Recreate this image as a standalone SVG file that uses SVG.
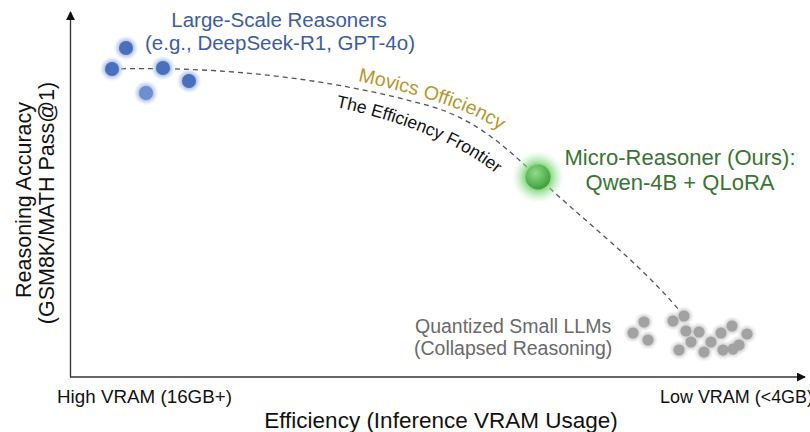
<svg xmlns="http://www.w3.org/2000/svg" width="810" height="432" viewBox="0 0 810 432">
<style>
text{font-family:"Liberation Sans",Arial,sans-serif}
.ax{stroke:#333;stroke-width:1.3;fill:none}
.frontier{stroke:#555;stroke-width:1.3;fill:none;stroke-dasharray:5 4}
.blue{fill:#3e5d9c;font-size:20.5px}
.green{fill:#3a7434;font-size:22px}
.gray{fill:#6a6a6a;font-size:19.5px}
.ylab{fill:#111;font-size:21.5px}
.xtick{fill:#111;font-size:19px}
.xlab{fill:#111;font-size:22.5px}
.bcore{fill:#4a70bd}
.bhalo{fill:url(#gBlue)}
.ghalo{fill:url(#gGray)}
.gcore{fill:#a2a2a2}
</style>
<defs>
<marker id="arr" viewBox="0 0 10 10" refX="9" refY="5" markerWidth="9" markerHeight="9" markerUnits="userSpaceOnUse" orient="auto">
<path d="M0,0 L10,5 L0,10 z" fill="#111"/>
</marker>
<radialGradient id="gBlue"><stop offset="0.5" stop-color="#9bb3e2" stop-opacity="0.95"/><stop offset="1" stop-color="#c9d6f0" stop-opacity="0"/></radialGradient>
<radialGradient id="gGray"><stop offset="0.5" stop-color="#c8c8c8" stop-opacity="0.95"/><stop offset="1" stop-color="#e2e2e2" stop-opacity="0"/></radialGradient>
<radialGradient id="gGreenHalo"><stop offset="0.45" stop-color="#6fd06a" stop-opacity="0.9"/><stop offset="1" stop-color="#b8ecb4" stop-opacity="0"/></radialGradient>
<radialGradient id="gGreenCore" cx="0.4" cy="0.35" r="0.7"><stop offset="0" stop-color="#8fdc86"/><stop offset="1" stop-color="#3c9a3a"/></radialGradient>
<path id="goldPath" d="M358,81 C395,89 440,101 470,114 C492,124 507,134 525,150"/>
<path id="blackPath" d="M336,107 C370,114 410,126 445,142 C470,154 490,167 510,186"/>
</defs>

<g id="axes">
<line class="ax" x1="70.5" y1="377" x2="70.5" y2="12" marker-end="url(#arr)"/>
<line class="ax" x1="70" y1="377" x2="805" y2="377" marker-end="url(#arr)"/>
<text class="ylab" transform="translate(31,200) rotate(-90)" text-anchor="middle">Reasoning Accuracy</text>
<text class="ylab" transform="translate(54,203) rotate(-90)" text-anchor="middle">(GSM8K/MATH Pass@1)</text>
<text class="xtick" x="57" y="403" textLength="175" lengthAdjust="spacingAndGlyphs">High VRAM (16GB+)</text>
<text class="xtick" x="660" y="403" textLength="153" lengthAdjust="spacingAndGlyphs">Low VRAM (&lt;4GB)</text>
<text class="xlab" x="441" y="428" text-anchor="middle">Efficiency (Inference VRAM Usage)</text>
</g>

<g id="connectors">
<path id="frontier" class="frontier" d="M112,69 C220,66 330,78 430,106 C480,121 508,150 538,177 C580,218 640,262 684,316"/>
<text fill="#b8962e" font-size="19.5px"><textPath href="#goldPath">Movics Officiency</textPath></text>
<text fill="#111" font-size="17.5px"><textPath href="#blackPath">The Efficiency Frontier</textPath></text>
</g>

<g id="large-scale-reasoners">
<circle class="bhalo" cx="126" cy="48" r="12.5"/>
<circle class="bhalo" cx="112" cy="69" r="12.5"/>
<circle class="bhalo" cx="163" cy="68" r="12.5"/>
<circle class="bhalo" cx="189" cy="81" r="12.5"/>
<circle class="bhalo" cx="146" cy="93" r="12.5"/>
<circle class="bcore" cx="126" cy="48" r="7"/>
<circle class="bcore" cx="112" cy="69" r="7"/>
<circle class="bcore" cx="163" cy="68" r="7"/>
<circle class="bcore" cx="189" cy="81" r="7"/>
<circle cx="146" cy="93" r="7" fill="#6d8fcf"/>
<text class="blue" x="279" y="27" text-anchor="middle">Large-Scale Reasoners</text>
<text class="blue" x="280" y="50" text-anchor="middle">(e.g., DeepSeek-R1, GPT-4o)</text>
</g>

<g id="micro-reasoner">
<circle cx="538" cy="177" r="26" fill="url(#gGreenHalo)"/>
<circle cx="538" cy="177" r="12.5" fill="url(#gGreenCore)"/>
<text class="green" x="680" y="165" text-anchor="middle">Micro-Reasoner (Ours):</text>
<text class="green" x="680" y="190" text-anchor="middle">Qwen-4B + QLoRA</text>
</g>

<g id="quantized-small-llms">
<g class="ghalo">
<circle cx="644" cy="322" r="10"/><circle cx="633" cy="333" r="10"/><circle cx="648" cy="340" r="10"/>
<circle cx="673" cy="321" r="10"/><circle cx="684" cy="316" r="10"/><circle cx="686" cy="331" r="10"/>
<circle cx="699" cy="332" r="10"/><circle cx="691" cy="342" r="10"/><circle cx="679" cy="350" r="10"/>
<circle cx="704" cy="352" r="10"/><circle cx="711" cy="342" r="10"/><circle cx="721" cy="333" r="10"/>
<circle cx="732" cy="326" r="10"/><circle cx="747" cy="334" r="10"/><circle cx="723" cy="350" r="10"/>
<circle cx="733" cy="349" r="10"/><circle cx="739" cy="345" r="10"/>
</g>
<g class="gcore">
<circle cx="644" cy="322" r="5.5"/><circle cx="633" cy="333" r="5.5"/><circle cx="648" cy="340" r="5.5"/>
<circle cx="673" cy="321" r="5.5"/><circle cx="684" cy="316" r="5.5"/><circle cx="686" cy="331" r="5.5"/>
<circle cx="699" cy="332" r="5.5"/><circle cx="691" cy="342" r="5.5"/><circle cx="679" cy="350" r="5.5"/>
<circle cx="704" cy="352" r="5.5"/><circle cx="711" cy="342" r="5.5"/><circle cx="721" cy="333" r="5.5"/>
<circle cx="732" cy="326" r="5.5"/><circle cx="747" cy="334" r="5.5"/><circle cx="723" cy="350" r="5.5"/>
<circle cx="733" cy="349" r="5.5"/><circle cx="739" cy="345" r="5.5"/>
</g>
<text class="gray" x="415" y="333">Quantized Small LLMs</text>
<text class="gray" x="414" y="355">(Collapsed Reasoning)</text>
</g>
</svg>
